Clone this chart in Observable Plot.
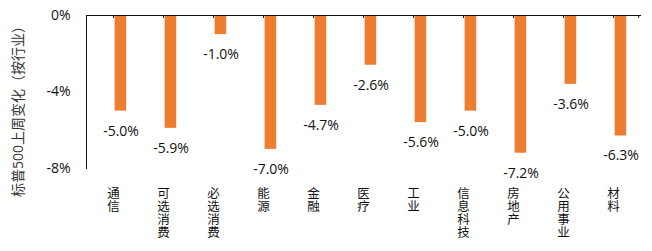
<!DOCTYPE html>
<html>
<head>
<meta charset="utf-8">
<script src="https://cdn.jsdelivr.net/npm/d3@7"></script>
<script src="https://cdn.jsdelivr.net/npm/@observablehq/plot@0.6"></script>
<style>
  html, body { margin: 0; padding: 0; background: #fff; }
  #chart svg { display: block; }
</style>
</head>
<body>
<div id="chart"></div>
<script>
const categories = ["通信", "可选消费", "必选消费", "能源", "金融", "医疗", "工业", "信息科技", "房地产", "公用事业", "材料"];
const values = [-5.0, -5.9, -1.0, -7.0, -4.7, -2.6, -5.6, -5.0, -7.2, -3.6, -6.3];
const yTicks = [0, -4, -8];
const yLabel = "标普500上周变化（按行业）";
const barColor = "#ED7D31";

const data = categories.map((c, i) => ({category: c, value: values[i]}));
const font = "'Open Sans', 'Noto Sans CJK SC', sans-serif";

const chart = Plot.plot({
  width: 652,
  height: 251,
  marginLeft: 86,
  marginRight: 12,
  marginTop: 15,
  marginBottom: 83,
  style: {fontFamily: font, fontSize: "14px", color: "#111", background: "#fff"},
  x: {type: "band", domain: categories, padding: 0, axis: null},
  y: {domain: [-8, 0], axis: null},
  marks: [
    Plot.barY(data, {x: "category", y: "value", fill: barColor, insetLeft: 26.6, insetRight: 11.8}),
    Plot.frame({anchor: "top", stroke: "#111"}),
    Plot.frame({anchor: "left", stroke: "#111"}),
    Plot.ruleX(categories, {x: d => d, y1: () => 0, y2: () => 0, insetBottom: -3, stroke: "#111"}),
    Plot.ruleX(categories.slice(-1), {x: d => d, y1: () => 0, y2: () => 0, insetBottom: -3, dx: 25.2, stroke: "#111"}),
    Plot.axisY({ticks: yTicks, tickSize: 0, tickPadding: 16, tickFormat: d => d + "%", fontSize: 14, label: null}),
    Plot.text(data, {x: "category", y: "value", text: d => d.value.toFixed(1) + "%", dx: 7.5, dy: 20, fontSize: 14, fill: "#111"}),
    Plot.text(categories, {x: d => d, text: d => d.split("").join("\n"), frameAnchor: "bottom", lineAnchor: "top", dy: 20, lineHeight: 1.05, fontSize: 12.5, fill: "#111"}),
    Plot.text([yLabel], {text: d => d, frameAnchor: "left", textAnchor: "middle", rotate: -90, dx: -68, dy: 16, fontSize: 14, fill: "#333"})
  ]
});
document.getElementById("chart").appendChild(chart);
</script>
</body>
</html>
